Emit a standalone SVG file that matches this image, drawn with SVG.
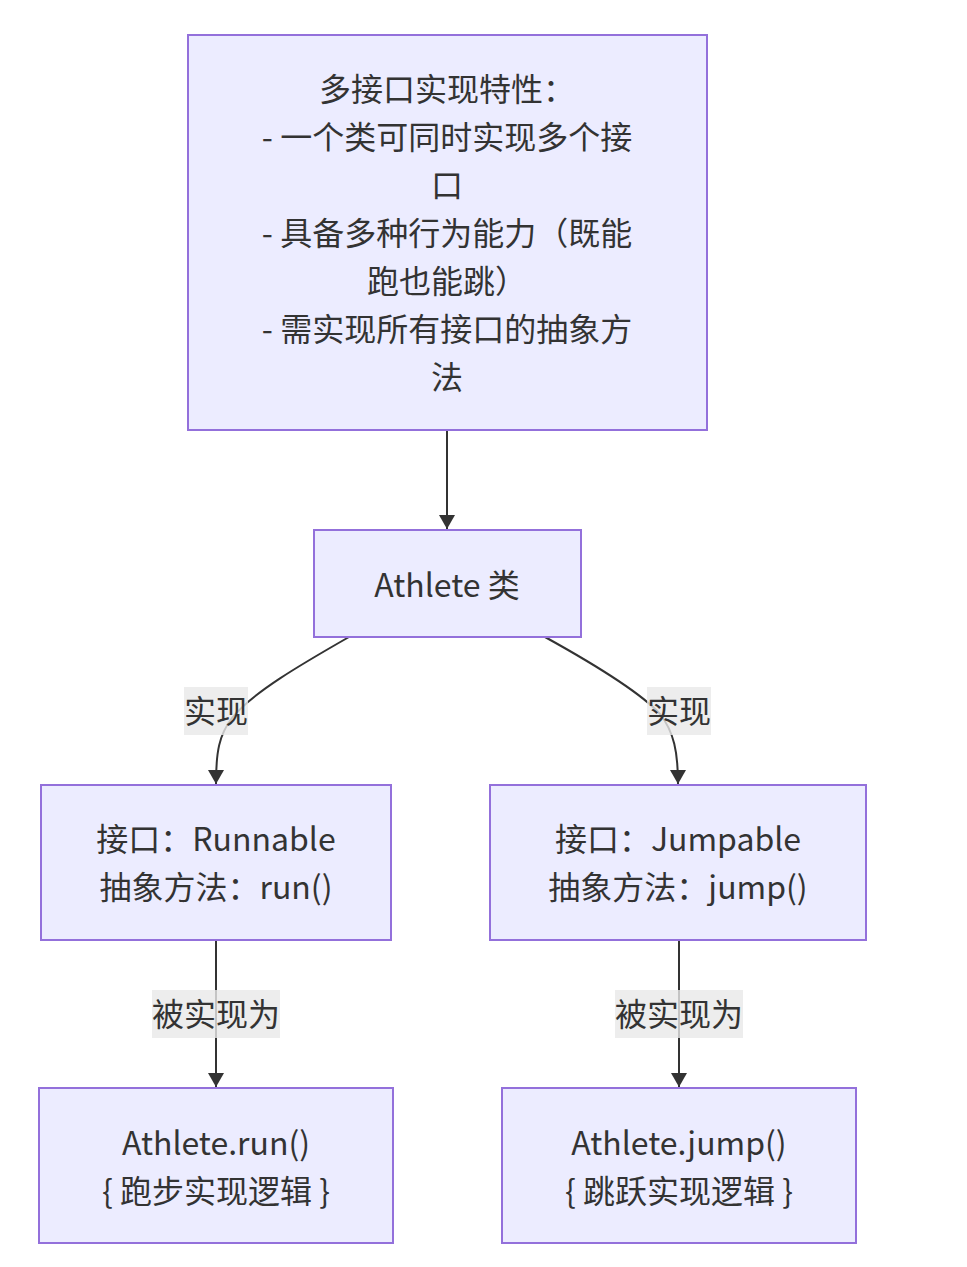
<svg xmlns="http://www.w3.org/2000/svg" width="967" height="1267" viewBox="0 0 967 1267">
<defs>
<style>
.node rect{fill:#ECECFF;stroke:#9370DB;stroke-width:2}
text{font-family:"Noto Sans CJK SC","Noto Sans",sans-serif;font-size:32px;fill:#333;text-anchor:middle;dominant-baseline:central}
.edge{fill:none;stroke:#333;stroke-width:2}
.lbl{fill:#e8e8e8;fill-opacity:0.8}
</style>
<marker id="arrow" viewBox="0 0 14 16" refX="14" refY="8" markerWidth="14" markerHeight="16" markerUnits="userSpaceOnUse" orient="auto">
<path d="M0,0 L14,8 L0,16 Z" fill="#333"/>
</marker>
</defs>
<rect width="967" height="1267" fill="#fff"/>
<g id="connectors">
<path class="edge" d="M447,430 L447,529" marker-end="url(#arrow)"/>
<path class="edge" d="M349,637 C300,665 252,693 232,718 C219,735 216,752 216,784" marker-end="url(#arrow)"/>
<path class="edge" d="M545,637 C592,663 640,692 660,714 C674,732 678,752 678,784" marker-end="url(#arrow)"/>
<path class="edge" d="M216,940 L216,1087" marker-end="url(#arrow)"/>
<path class="edge" d="M679,940 L679,1087" marker-end="url(#arrow)"/>
<rect class="lbl" x="184" y="687" width="64" height="48"/>
<text x="216" y="709">实现</text>
<rect class="lbl" x="647" y="687" width="64" height="48"/>
<text x="679" y="709">实现</text>
<rect class="lbl" x="152" y="990" width="128" height="48"/>
<text x="216" y="1012">被实现为</text>
<rect class="lbl" x="615" y="990" width="128" height="48"/>
<text x="679" y="1012">被实现为</text>
</g>
<g id="note" class="node">
<rect x="188" y="35" width="519" height="395"/>
<text x="447" y="87">多接口实现特性：</text>
<text x="447" y="135">- 一个类可同时实现多个接</text>
<text x="447" y="183">口</text>
<text x="447" y="231">- 具备多种行为能力（既能</text>
<text x="447" y="279">跑也能跳）</text>
<text x="447" y="327">- 需实现所有接口的抽象方</text>
<text x="447" y="375">法</text>
</g>
<g id="athlete" class="node">
<rect x="314" y="530" width="267" height="107"/>
<text x="447" y="583">Athlete 类</text>
</g>
<g id="runnable" class="node">
<rect x="41" y="785" width="350" height="155"/>
<text x="216" y="837">接口：Runnable</text>
<text x="216" y="885">抽象方法：run()</text>
</g>
<g id="jumpable" class="node">
<rect x="490" y="785" width="376" height="155"/>
<text x="678" y="837">接口：Jumpable</text>
<text x="678" y="885">抽象方法：jump()</text>
</g>
<g id="run" class="node">
<rect x="39" y="1088" width="354" height="155"/>
<text x="216" y="1141">Athlete.run()</text>
<text x="216" y="1189">{ 跑步实现逻辑 }</text>
</g>
<g id="jump" class="node">
<rect x="502" y="1088" width="354" height="155"/>
<text x="679" y="1141">Athlete.jump()</text>
<text x="679" y="1189">{ 跳跃实现逻辑 }</text>
</g>
</svg>
